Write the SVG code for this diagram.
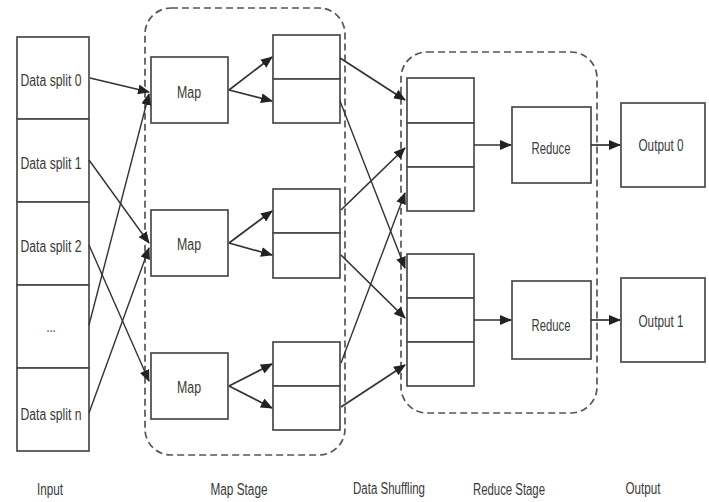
<svg xmlns="http://www.w3.org/2000/svg" width="709" height="502" viewBox="0 0 709 502">
<style>
.box{fill:#fff;stroke:#4a4a4a;stroke-width:1.7}
.dash{fill:none;stroke:#555;stroke-width:1.7;stroke-dasharray:7 4}
.t{font-family:"Liberation Sans",Arial,sans-serif;font-size:16px;fill:#3a3a3a;text-anchor:middle;dominant-baseline:central}
.c{fill:none;stroke:#333;stroke-width:1.7;marker-end:url(#ah)}
.cl{fill:none;stroke:#333;stroke-width:1.4;marker-end:url(#ah)}
</style>
<defs>
<marker id="ah" markerUnits="userSpaceOnUse" markerWidth="12" markerHeight="10" refX="11" refY="5" orient="auto">
<path d="M0,0 L12,5 L0,10 Z" fill="#222"/>
</marker>
</defs>
<rect width="709" height="502" fill="#fff"/>
<g id="map-stage"><rect class="dash" x="145" y="8" width="200" height="447" rx="26"/></g>
<g id="reduce-stage"><rect class="dash" x="401" y="52" width="196" height="361" rx="26"/></g>
<g id="input">
<g id="split0"><rect class="box" x="17" y="37" width="72" height="82"/><text class="t" x="51" y="80" textLength="61" lengthAdjust="spacingAndGlyphs">Data  split 0</text></g>
<g id="split1"><rect class="box" x="17" y="119" width="72" height="83"/><text class="t" x="51" y="163" textLength="61" lengthAdjust="spacingAndGlyphs">Data  split 1</text></g>
<g id="split2"><rect class="box" x="17" y="202" width="72" height="83"/><text class="t" x="51" y="246" textLength="61" lengthAdjust="spacingAndGlyphs">Data  split 2</text></g>
<g id="splitdots"><rect class="box" x="17" y="285" width="72" height="83"/><text class="t" x="51" y="326" textLength="9" lengthAdjust="spacingAndGlyphs">...</text></g>
<g id="splitn"><rect class="box" x="17" y="368" width="72" height="83"/><text class="t" x="51" y="414" textLength="61" lengthAdjust="spacingAndGlyphs">Data  split n</text></g>
</g>
<g id="map1"><rect class="box" x="151" y="57" width="77" height="66"/><text class="t" x="189" y="92" textLength="24" lengthAdjust="spacingAndGlyphs">Map</text></g>
<g id="map2"><rect class="box" x="151" y="210" width="77" height="66"/><text class="t" x="189" y="244" textLength="24" lengthAdjust="spacingAndGlyphs">Map</text></g>
<g id="map3"><rect class="box" x="151" y="353" width="77" height="66"/><text class="t" x="189" y="387" textLength="24" lengthAdjust="spacingAndGlyphs">Map</text></g>
<g id="mapout1"><rect class="box" x="273" y="35" width="67" height="44"/><rect class="box" x="273" y="79" width="67" height="44"/></g>
<g id="mapout2"><rect class="box" x="273" y="189" width="67" height="44"/><rect class="box" x="273" y="233" width="67" height="45"/></g>
<g id="mapout3"><rect class="box" x="273" y="342" width="67" height="44"/><rect class="box" x="273" y="386" width="67" height="44"/></g>
<g id="redin1"><rect class="box" x="407" y="78" width="67" height="45"/><rect class="box" x="407" y="123" width="67" height="44"/><rect class="box" x="407" y="167" width="67" height="44"/></g>
<g id="redin2"><rect class="box" x="407" y="254" width="67" height="44"/><rect class="box" x="407" y="298" width="67" height="44"/><rect class="box" x="407" y="342" width="67" height="44"/></g>
<g id="reduce1"><rect class="box" x="512" y="107" width="79" height="76"/><text class="t" x="551" y="148" textLength="39" lengthAdjust="spacingAndGlyphs">Reduce</text></g>
<g id="reduce2"><rect class="box" x="512" y="281" width="79" height="78"/><text class="t" x="551" y="325" textLength="39" lengthAdjust="spacingAndGlyphs">Reduce</text></g>
<g id="output0"><rect class="box" x="621" y="103" width="84" height="84"/><text class="t" x="661" y="145" textLength="45" lengthAdjust="spacingAndGlyphs">Output 0</text></g>
<g id="output1"><rect class="box" x="621" y="278" width="84" height="84"/><text class="t" x="661" y="321" textLength="45" lengthAdjust="spacingAndGlyphs">Output 1</text></g>
<g id="connectors">
<path class="c" d="M90,78 L149,92"/>
<path class="cl" d="M89,160 L149,243"/>
<path class="cl" d="M89,245 L149,381"/>
<path class="cl" d="M89,325 L149,94"/>
<path class="cl" d="M89,413 L149,248"/>
<path class="c" d="M229,90 L272,57"/>
<path class="c" d="M229,90 L272,101"/>
<path class="c" d="M229,243 L272,211"/>
<path class="c" d="M229,243 L272,255"/>
<path class="c" d="M229,386 L272,364"/>
<path class="c" d="M229,386 L272,408"/>
<path class="c" d="M340,58 L405,100"/>
<path class="cl" d="M340,101 L405,268"/>
<path class="c" d="M341,210 L405,148"/>
<path class="cl" d="M341,363 L405,193"/>
<path class="c" d="M341,255 L405,318"/>
<path class="c" d="M341,407 L405,365"/>
<path class="c" d="M474,145 L511,145"/>
<path class="c" d="M591,145 L620,145"/>
<path class="c" d="M474,320 L511,320"/>
<path class="c" d="M591,320 L620,320"/>
</g>
<g id="labels">
<text class="t" x="50" y="489" textLength="26" lengthAdjust="spacingAndGlyphs">Input</text>
<text class="t" x="239" y="489" textLength="57" lengthAdjust="spacingAndGlyphs">Map Stage</text>
<text class="t" x="389" y="488" textLength="72" lengthAdjust="spacingAndGlyphs">Data Shuffling</text>
<text class="t" x="509" y="489" textLength="72" lengthAdjust="spacingAndGlyphs">Reduce Stage</text>
<text class="t" x="643" y="488" textLength="35" lengthAdjust="spacingAndGlyphs">Output</text>
</g>
</svg>
